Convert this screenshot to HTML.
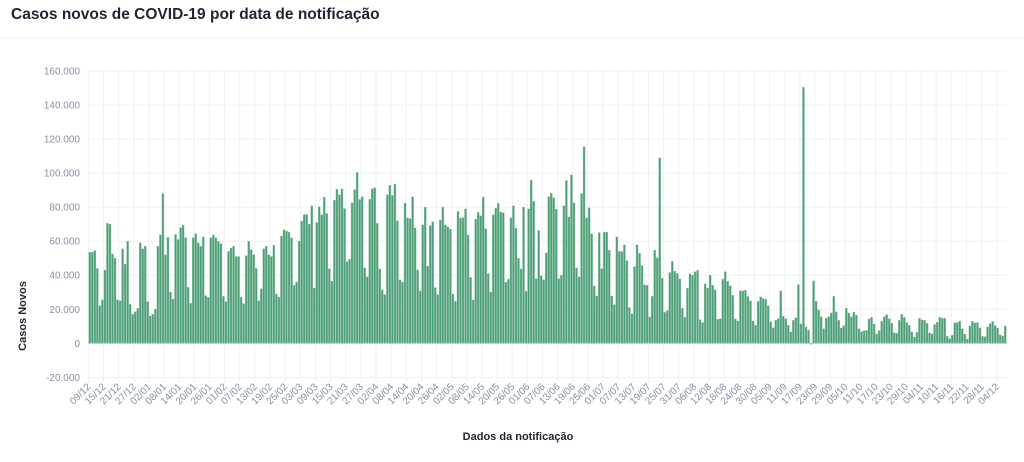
<!DOCTYPE html>
<html><head><meta charset="utf-8"><style>
body{margin:0;background:#fff;width:1024px;height:457px;overflow:hidden;font-family:"Liberation Sans",sans-serif}
</style></head><body>
<svg id="chart" width="1024" height="457" xmlns="http://www.w3.org/2000/svg">
<text x="11" y="19" font-size="15.5" font-weight="bold" fill="#1f2430" font-family="Liberation Sans, sans-serif">Casos novos de COVID-19 por data de notificação</text>
<line x1="0" y1="38" x2="1024" y2="38" stroke="#eef1f5" stroke-width="1"/>
<g id="grid"></g><g id="bars"></g><g id="axes"></g>
<text transform="translate(26,316) rotate(-90)" text-anchor="middle" font-size="11" font-weight="bold" fill="#1f2430">Casos Novos</text>
<text x="518" y="440" text-anchor="middle" font-size="11" font-weight="bold" fill="#1f2430">Dados da notificação</text>
</svg>
<script>
const yTicks=[160000,140000,120000,100000,80000,60000,40000,20000,0,-20000];
const yTickLabels=["160.000","140.000","120.000","100.000","80.000","60.000","40.000","20.000","0","-20.000"];
const xTickLabels=["09/12","15/12","21/12","27/12","02/01","08/01","14/01","20/01","26/01","01/02","07/02","13/02","19/02","25/02","03/03","09/03","15/03","21/03","27/03","02/04","08/04","14/04","20/04","26/04","02/05","08/05","14/05","20/05","26/05","01/06","07/06","13/06","19/06","25/06","01/07","07/07","13/07","19/07","25/07","31/07","06/08","12/08","18/08","24/08","30/08","05/09","11/09","17/09","23/09","29/09","05/10","11/10","17/10","23/10","29/10","04/11","10/11","16/11","22/11","28/11","04/12"];
const casesK=[53.5,53.5,54.5,44,22,25.5,43,70.5,70,52.5,50,25.5,25,55.5,46.5,60,23,17,18.5,20.5,59,55.5,57,24.5,16,17,20,57,63.7,88,52,62.3,30,26,64,61,68,69.4,62,33,23.5,62,64.5,59,57,62.5,28,27,62,63.7,62,60,58.5,27.6,24.5,54,56,57,51,51,27,23.3,51.5,60,55,52,44,25,32,55.5,57,52,51,57.6,29,27,63,66.7,66,65.3,62,34,36,60,71.8,75.5,75.7,70,80.8,32.4,
71,80.2,75.5,85.9,76.3,43.9,36.5,84.1,90.6,87.3,90.8,79.2,48,49.4,82.5,90.2,100.4,84.5,86.1,44.3,39,84.7,90.8,91.4,70.6,43.7,31.4,28.6,87.3,92.9,86.9,93.5,72,37.3,35.9,82.4,73.7,73.3,86.1,67.8,43.1,30.8,69.6,80,45.3,69.2,71.4,32.7,28.6,72.4,80,69.6,68.4,67.1,29,24.7,77.5,73.7,73.7,79,63.7,38.8,25.5,72.9,76.9,74.9,85.9,67.3,41,30,75.5,79.4,82.2,77.1,76.7,35.9,37.6,73.7,80.8,67.6,50,43.7,80,30.6,79,95.9,83.5,38,66.3,39.6,37.3,53.1,86.1,
88.2,85.5,78.8,38,40,80.8,95.7,74.3,99,82.5,44.3,39,88,115.5,73.7,79.6,64.3,33.7,27.8,65.1,43.9,65.3,65.3,54.7,27.8,22.7,62.5,54.1,53.9,57.8,48.6,21,17.3,45.1,57.8,52.9,45.7,34.3,34.1,15.5,27.6,54.7,50.2,109,38.2,18.2,19.2,41.6,48.2,42.4,41,37.8,20.6,15.3,32.4,40.8,40,42,42.9,13.9,12.2,34.9,32.5,40,34.1,31.4,14.1,14.5,37.6,42,36.5,33.9,28.2,14.3,13.1,30.8,30.8,31.2,27.5,24.9,13.1,10.6,24.7,27.3,26.3,25.9,22,12.7,9.2,13.5,14.5,
30.8,15.9,14.5,10.6,6.7,13.5,15.1,34.5,11.4,150.4,9.6,7.8,-0.6,36.7,24.7,19.6,15.7,8.6,14.7,15.7,17.8,27.6,18.6,13.5,9,10.4,20.6,17.8,15.5,18.2,16.5,8.6,6.9,7.3,7.6,14.3,15.3,11.2,5.5,7.5,12.9,15.7,16.9,14.5,11.8,6.1,5.9,13.5,17.1,15.3,12.2,10.6,6.7,3.7,6.5,14.7,13.7,13.5,11.8,6.1,5.5,11,12.4,15.3,14.7,14.7,4.1,2.7,4.7,12,12.2,13.1,8.6,5.3,2.5,10.2,12.9,12,12.2,9,4.1,3.9,9.6,11.6,12.9,10.4,9,4.9,4.3,10.2];
const NS="http://www.w3.org/2000/svg";
const X0=88.3,X1=1007,Y0=343.3,PXPER=272.3/160000;
const y=v=>Y0-v*PXPER;
const tickX=i=>X0+i*15.14;
const barX=i=>89.8+i*(1005.2-89.8)/(casesK.length-1);
function mk(tag,attrs,parent){const e=document.createElementNS(NS,tag);for(const k in attrs)e.setAttribute(k,attrs[k]);parent.appendChild(e);return e;}
const grid=document.getElementById('grid'),bars=document.getElementById('bars'),axes=document.getElementById('axes');
yTicks.forEach((t,i)=>{
  const l=mk('line',{x1:X0,x2:X1,y1:y(t),y2:y(t),stroke:t===0?'#b8bcc4':'#eef1f6','stroke-width':1},t===0?axes:grid);
  
  
  const tx=mk('text',{x:80,y:y(t)+3.5,'text-anchor':'end','font-size':10,fill:'#8891a7'},axes);
  
  
  tx.textContent=yTickLabels[i];
});
xTickLabels.forEach((lab,i)=>{
  const x=tickX(i);
  const l=mk('line',{x1:x,x2:x,y1:y(160000),y2:y(-20000)+5,stroke:'#eef1f6','stroke-width':1},grid);
  
  
  const tx=mk('text',{transform:`translate(${x+3},${y(-20000)+10}) rotate(-45)`,'text-anchor':'end','font-size':10,fill:'#8891a7'},axes);
  
  
  tx.textContent=lab;
});
casesK.forEach((v,i)=>{
  const val=v*1000,top=Math.min(y(val),Y0),h=Math.max(Math.abs(y(val)-Y0),0.5);
  const r=mk('rect',{x:barX(i)-1,y:top,width:2,height:h,fill:'#4f9e78',stroke:'#8cc7a8','stroke-width':0.4},bars);
  
  
});
</script>
</body></html>
